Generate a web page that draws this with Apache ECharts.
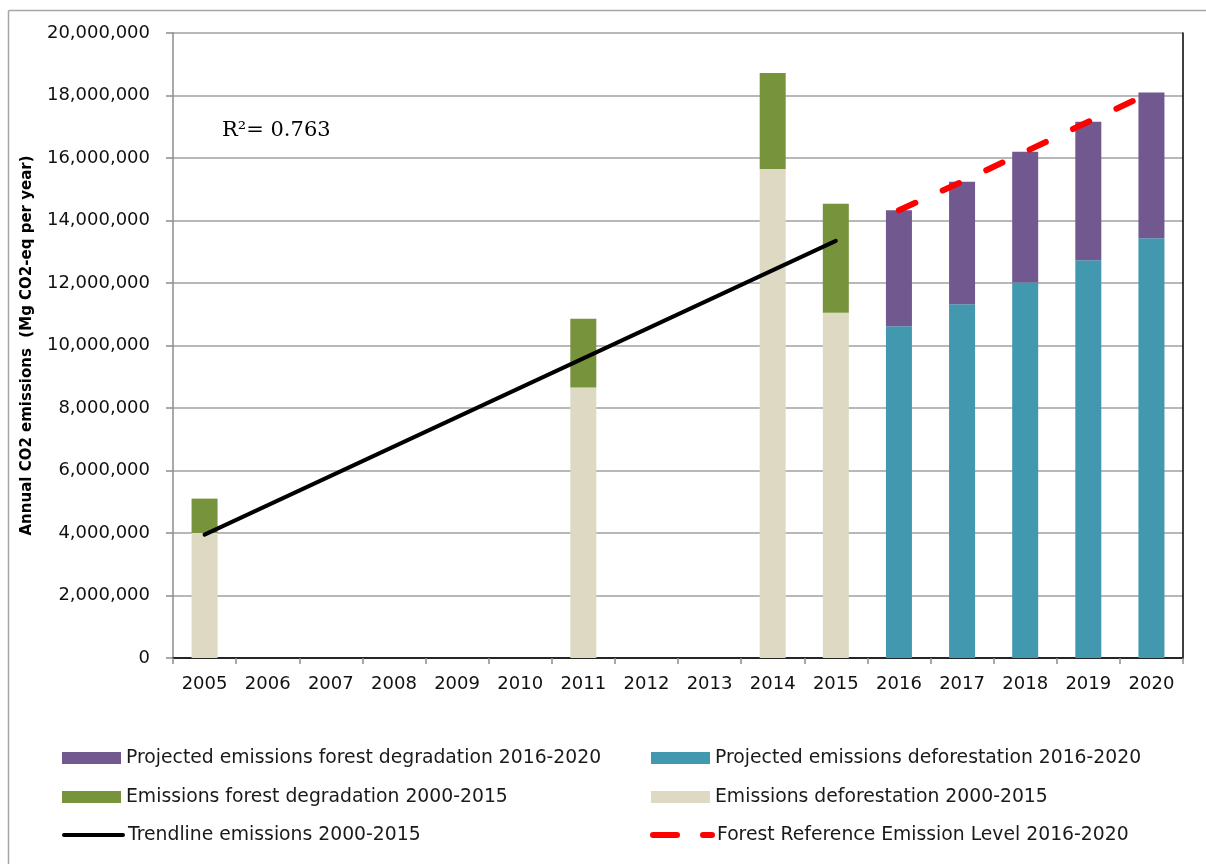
<!DOCTYPE html>
<html>
<head>
<meta charset="utf-8">
<script src="https://cdn.jsdelivr.net/npm/echarts@6/dist/echarts.min.js"></script>
<style>
    html, body {margin: 0; padding: 0; background: #fff; overflow: hidden;}
    #chart {width: 1206px; height: 864px;}
</style>
</head>
<body>
<div id="chart"></div>
<script>
// categories
var years = ['2005', '2006', '2007', '2008', '2009', '2010', '2011', '2012',
    '2013', '2014', '2015', '2016', '2017', '2018', '2019', '2020'];

// historic emissions (Mg CO2-eq per year)
var defHist = [4000000, null, null, null, null, null, 8660000, null, null, 15650000, 11050000, null, null, null, null, null];
var degHist = [1100000, null, null, null, null, null, 2200000, null, null, 3070000, 3490000, null, null, null, null, null];

// projections 2016-2020
var defProj = [null, null, null, null, null, null, null, null, null, null, null, 10620000, 11320000, 12020000, 12730000, 13430000];
var degProj = [null, null, null, null, null, null, null, null, null, null, null, 3710000, 3920000, 4180000, 4430000, 4670000];

// trendline end points (2005 and 2015) and reference level
var trendEnds = [3950000, null, null, null, null, null, null, null, null, null, 13350000, null, null, null, null, null];
var frel = [null, null, null, null, null, null, null, null, null, null, null, 14330000, 15240000, 16200000, 17160000, 18100000];

var yMin = 0, yMax = 20000000, yStep = 2000000;
var r2Text = 'R\u00b2= 0.763';

var names = {
    degProj: 'Projected emissions forest degradation 2016-2020',
    defProj: 'Projected emissions deforestation 2016-2020',
    degHist: 'Emissions forest degradation 2000-2015',
    defHist: 'Emissions deforestation 2000-2015',
    trend: 'Trendline emissions 2000-2015',
    frel: 'Forest Reference Emission Level 2016-2020'
};

var font = 'DejaVu Sans';
var gridGray = '#a0a0a0';

var legendBase = function (name, left, centerY, extra) {
    var l = {
        data: [name],
        left: left,
        top: centerY - 10,
        padding: 0,
        itemWidth: 59,
        itemHeight: 12,
        selectedMode: false,
        textStyle: {fontFamily: font, fontSize: 18.8, color: '#1a1a1a', lineHeight: 20}
    };
    for (var k in extra) { l[k] = extra[k]; }
    return l;
};

var myChart = echarts.init(document.getElementById('chart'));
var option = {
    animation: false,
    backgroundColor: '#fff',
    grid: {left: 173, right: 23, top: 33, bottom: 206},
    graphic: [
        {
            type: 'line', silent: true,
            shape: {x1: 8.5, y1: 10.5, x2: 8.5, y2: 864},
            style: {stroke: '#a6a6a6', lineWidth: 1.5}
        },
        {
            type: 'line', silent: true,
            shape: {x1: 8.5, y1: 10.5, x2: 1206, y2: 10.5},
            style: {stroke: '#a6a6a6', lineWidth: 1.5}
        },
        {
            type: 'text', left: 222, top: 120, silent: true,
            style: {text: r2Text, font: '21px "DejaVu Serif"', fill: '#000'}
        }
    ],
    legend: [
        legendBase(names.degProj, 62, 758, {icon: 'rect'}),
        legendBase(names.defProj, 651, 758, {icon: 'rect'}),
        legendBase(names.degHist, 62, 797, {icon: 'rect'}),
        legendBase(names.defHist, 651, 797, {icon: 'rect'}),
        legendBase(names.trend, 62, 835, {
            itemStyle: {opacity: 0},
            lineStyle: {width: 4, cap: 'round'}
        }),
        legendBase(names.frel, 650, 835, {
            itemStyle: {opacity: 0},
            lineStyle: {width: 6, type: [24, 26], cap: 'round'}
        })
    ],
    xAxis: [
        {
            type: 'category',
            data: years,
            axisLine: {lineStyle: {color: '#8c8c8c', width: 1.5}},
            axisTick: {show: true, length: 6, lineStyle: {color: '#8c8c8c', width: 1.5}},
            axisLabel: {interval: 0, margin: 17, fontFamily: font, fontSize: 18, color: '#111'}
        },
        {
            type: 'category',
            data: years,
            position: 'top',
            axisLine: {lineStyle: {color: '#000', width: 1.5}},
            axisTick: {show: false},
            axisLabel: {show: false}
        }
    ],
    yAxis: [
        {
            type: 'value',
            min: yMin, max: yMax, interval: yStep,
            name: 'Annual CO2 emissions  (Mg CO2-eq per year)',
            nameLocation: 'middle',
            nameGap: 138,
            nameTextStyle: {fontFamily: font, fontSize: 15, fontWeight: 'bold', color: '#000'},
            axisLine: {show: true, lineStyle: {color: '#8c8c8c', width: 1.5}},
            axisTick: {show: true, length: 7, lineStyle: {color: '#8c8c8c', width: 1.5}},
            axisLabel: {
                margin: 23, fontFamily: font, fontSize: 18, color: '#111',
                formatter: function (v) { return v.toLocaleString('en-US'); }
            },
            splitLine: {lineStyle: {color: gridGray, width: 1.5}}
        },
        {
            type: 'value',
            min: yMin, max: yMax, interval: yStep,
            position: 'right',
            axisLine: {show: true, lineStyle: {color: '#000', width: 1.5}},
            axisTick: {show: false},
            axisLabel: {show: false},
            splitLine: {show: false}
        }
    ],
    series: [
        {name: names.defHist, type: 'bar', stack: 'all', barWidth: 26, data: defHist, itemStyle: {color: '#ddd9c3'}},
        {name: names.degHist, type: 'bar', stack: 'all', barWidth: 26, data: degHist, itemStyle: {color: '#77933c'}},
        {name: names.defProj, type: 'bar', stack: 'all', barWidth: 26, data: defProj, itemStyle: {color: '#4198af'}},
        {name: names.degProj, type: 'bar', stack: 'all', barWidth: 26, data: degProj, itemStyle: {color: '#71588f'}},
        {
            name: names.trend, type: 'line', data: trendEnds, connectNulls: true,
            symbol: 'none', z: 5,
            itemStyle: {color: '#000'},
            lineStyle: {color: '#000', width: 4, cap: 'round'}
        },
        {
            name: names.frel, type: 'line', data: frel,
            symbol: 'none', z: 6,
            itemStyle: {color: '#ff0000'},
            lineStyle: {color: '#ff0000', width: 6, type: [18, 30], cap: 'round'}
        }
    ]
};
myChart.setOption(option);
</script>
</body>
</html>
